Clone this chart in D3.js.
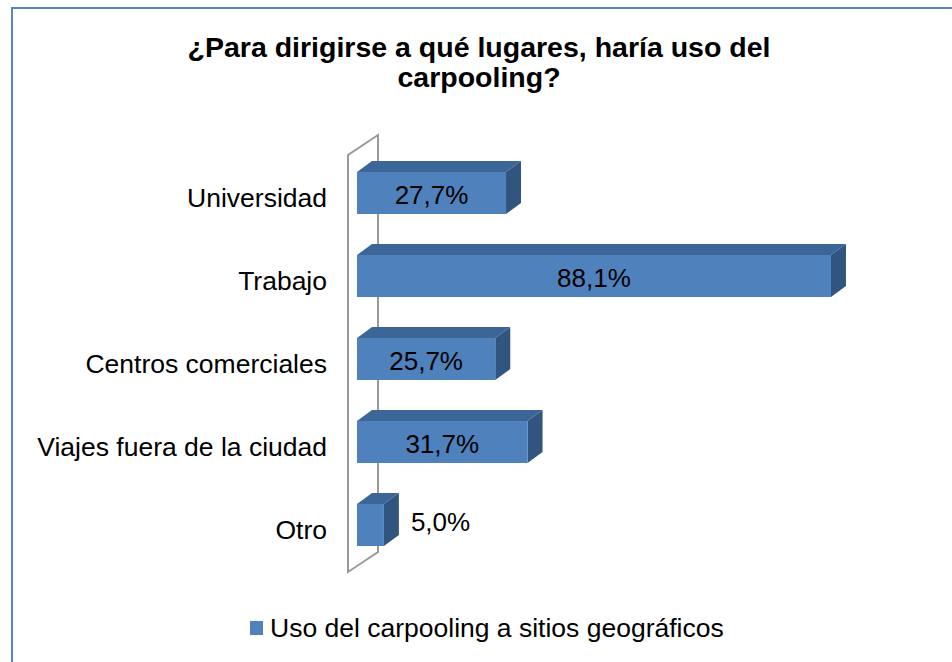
<!DOCTYPE html>
<html>
<head>
<meta charset="utf-8">
<script src="https://cdn.jsdelivr.net/npm/d3@7"></script>
<style>
  body { margin: 0; background: #fff; }
  svg { display: block; font-family: "Liberation Sans", Arial, sans-serif; }
</style>
</head>
<body>
<div id="chart"></div>
<script>
// chart data
const categories = ["Universidad", "Trabajo", "Centros comerciales", "Viajes fuera de la ciudad", "Otro"];
const values = [27.7, 88.1, 25.7, 31.7, 5.0];
const valueLabels = ["27,7%", "88,1%", "25,7%", "31,7%", "5,0%"];
const titleLines = ["¿Para dirigirse a qué lugares, haría uso del", "carpooling?"];
const seriesName = "Uso del carpooling a sitios geográficos";

const width = 952, height = 662;

const svg = d3.select("#chart").append("svg")
  .attr("width", width)
  .attr("height", height);

// chart border (cropped on right / bottom)
svg.append("rect")
  .attr("x", 12).attr("y", 8)
  .attr("width", 1000).attr("height", 1000)
  .attr("fill", "none")
  .attr("stroke", "#5a86c0")
  .attr("stroke-width", 2);

// title
svg.append("text")
  .attr("text-anchor", "middle")
  .style("font-size", "28.5px")
  .style("font-weight", "bold")
  .selectAll("tspan")
  .data(titleLines)
  .enter().append("tspan")
  .attr("x", 479)
  .attr("y", (d, i) => 57 + i * 30)
  .text(d => d);

// scales
const x = d3.scaleLinear().domain([0, 100]).range([357, 895]);
const y = d3.scaleBand().domain(categories)
  .range([151.5, 566.5])
  .paddingInner(0.494)
  .paddingOuter(0.247);

// 3d depth of bars and wall
const dx = 15, dy = -11;
const wallDx = 30, wallDy = -20;

// back wall (outline)
const wx = x(0) - 9;
const wTop = 155, wBot = 572;
svg.append("path")
  .attr("d", `M${wx},${wBot} L${wx},${wTop} L${wx + wallDx},${wTop + wallDy} L${wx + wallDx},${wBot + wallDy} Z`)
  .attr("fill", "none")
  .attr("stroke", "#999999")
  .attr("stroke-width", 2);

const data = categories.map((c, i) => ({ cat: c, value: values[i], label: valueLabels[i] }));

const bars = svg.selectAll(".bar")
  .data(data)
  .enter().append("g")
  .attr("class", "bar");

// top face
bars.append("path")
  .attr("d", d => {
    const x0 = x(0), x1 = x(d.value), y0 = y(d.cat);
    return `M${x0},${y0} L${x0 + dx},${y0 + dy} L${x1 + dx},${y0 + dy} L${x1},${y0} Z`;
  })
  .attr("fill", "#3d6698");

// side face
bars.append("path")
  .attr("d", d => {
    const x1 = x(d.value), y0 = y(d.cat), y1 = y0 + y.bandwidth();
    return `M${x1},${y0} L${x1 + dx},${y0 + dy} L${x1 + dx},${y1 + dy} L${x1},${y1} Z`;
  })
  .attr("fill", "#31557f");

// front face
bars.append("rect")
  .attr("x", x(0))
  .attr("y", d => y(d.cat))
  .attr("width", d => x(d.value) - x(0))
  .attr("height", y.bandwidth())
  .attr("fill", "#4f81bd");

// value labels
bars.append("text")
  .attr("x", d => d.value > 10 ? (x(0) + x(d.value)) / 2 : x(d.value) + dx + 12)
  .attr("y", d => y(d.cat) + y.bandwidth() / 2 + (d.value > 10 ? 2 : -3))
  .attr("dy", "0.35em")
  .attr("text-anchor", d => d.value > 10 ? "middle" : "start")
  .style("font-size", "26px")
  .attr("fill", "#000")
  .text(d => d.label);

// category labels
svg.selectAll(".cat")
  .data(categories)
  .enter().append("text")
  .attr("class", "cat")
  .attr("x", 327)
  .attr("y", d => y(d) + y.bandwidth() / 2 + 5)
  .attr("dy", "0.35em")
  .attr("text-anchor", "end")
  .style("font-size", "26.5px")
  .text(d => d);

// legend
const legend = svg.append("g").attr("transform", "translate(250,621)");
legend.append("rect")
  .attr("width", 13).attr("height", 14)
  .attr("fill", "#4f81bd");
legend.append("text")
  .attr("x", 20).attr("y", 16)
  .style("font-size", "26.5px")
  .text(seriesName);
</script>
</body>
</html>
